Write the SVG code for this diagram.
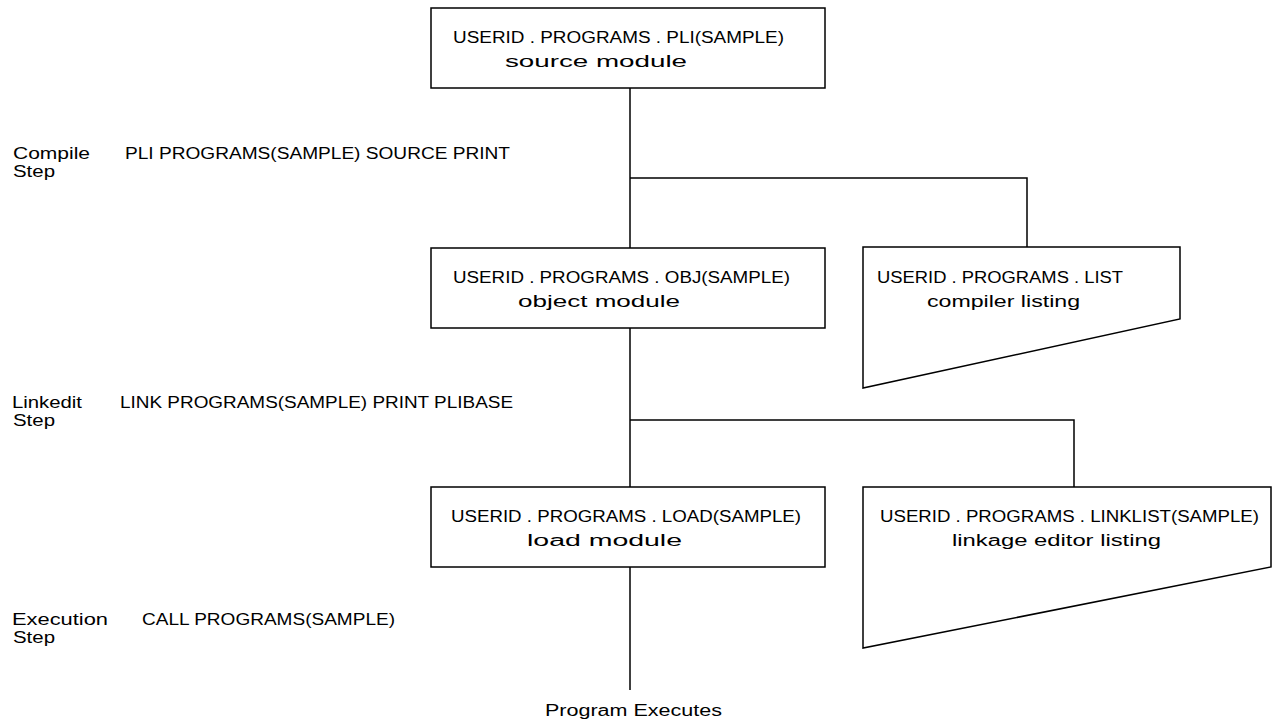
<svg xmlns="http://www.w3.org/2000/svg" width="1276" height="725" viewBox="0 0 1276 725">
<style>
.box{fill:#fff;stroke:#000;stroke-width:1.5}
.ln{fill:none;stroke:#000;stroke-width:1.5}
text{font-family:"Liberation Sans",Arial,sans-serif;font-size:16px;fill:#000}
</style>
<rect width="1276" height="725" fill="#fff"/>
<g id="connectors">
<path class="ln" d="M630,88 V248"/>
<path class="ln" d="M630,178 H1027 V247"/>
<path class="ln" d="M630,328 V487"/>
<path class="ln" d="M630,420 H1074 V487"/>
<path class="ln" d="M630,567 V690"/>
</g>
<g id="labels">
<text x="13" y="159" textLength="77" lengthAdjust="spacingAndGlyphs">Compile</text>
<text x="13" y="177" textLength="42" lengthAdjust="spacingAndGlyphs">Step</text>
<text x="125" y="159" textLength="385" lengthAdjust="spacingAndGlyphs">PLI PROGRAMS(SAMPLE) SOURCE PRINT</text>
<text x="12" y="408" textLength="70" lengthAdjust="spacingAndGlyphs">Linkedit</text>
<text x="13" y="426" textLength="42" lengthAdjust="spacingAndGlyphs">Step</text>
<text x="120" y="408" textLength="393" lengthAdjust="spacingAndGlyphs">LINK PROGRAMS(SAMPLE) PRINT PLIBASE</text>
<text x="12" y="625" textLength="96" lengthAdjust="spacingAndGlyphs">Execution</text>
<text x="13" y="643" textLength="42" lengthAdjust="spacingAndGlyphs">Step</text>
<text x="142" y="625" textLength="253" lengthAdjust="spacingAndGlyphs">CALL PROGRAMS(SAMPLE)</text>
</g>
<g id="source">
<rect class="box" x="431" y="8" width="394" height="80"/>
<text x="453" y="43" textLength="331" lengthAdjust="spacingAndGlyphs">USERID . PROGRAMS . PLI(SAMPLE)</text>
<text x="505" y="67" textLength="182" lengthAdjust="spacingAndGlyphs">source module</text>
</g>
<g id="object">
<rect class="box" x="431" y="248" width="394" height="80"/>
<text x="453" y="283" textLength="337" lengthAdjust="spacingAndGlyphs">USERID . PROGRAMS . OBJ(SAMPLE)</text>
<text x="518" y="307" textLength="162" lengthAdjust="spacingAndGlyphs">object module</text>
</g>
<g id="load">
<rect class="box" x="431" y="487" width="394" height="80"/>
<text x="451" y="522" textLength="350" lengthAdjust="spacingAndGlyphs">USERID . PROGRAMS . LOAD(SAMPLE)</text>
<text x="527" y="546" textLength="155" lengthAdjust="spacingAndGlyphs">load module</text>
</g>
<g id="list">
<polygon class="box" points="863,247 1180,247 1180,319 863,388"/>
<text x="877" y="283" textLength="246" lengthAdjust="spacingAndGlyphs">USERID . PROGRAMS . LIST</text>
<text x="927" y="307" textLength="153" lengthAdjust="spacingAndGlyphs">compiler listing</text>
</g>
<g id="linklist">
<polygon class="box" points="863,487 1271,487 1271,567 863,648"/>
<text x="880" y="522" textLength="379" lengthAdjust="spacingAndGlyphs">USERID . PROGRAMS . LINKLIST(SAMPLE)</text>
<text x="952" y="546" textLength="209" lengthAdjust="spacingAndGlyphs">linkage editor listing</text>
</g>
<g id="result">
<text x="545" y="716" textLength="177" lengthAdjust="spacingAndGlyphs">Program Executes</text>
</g>
</svg>
